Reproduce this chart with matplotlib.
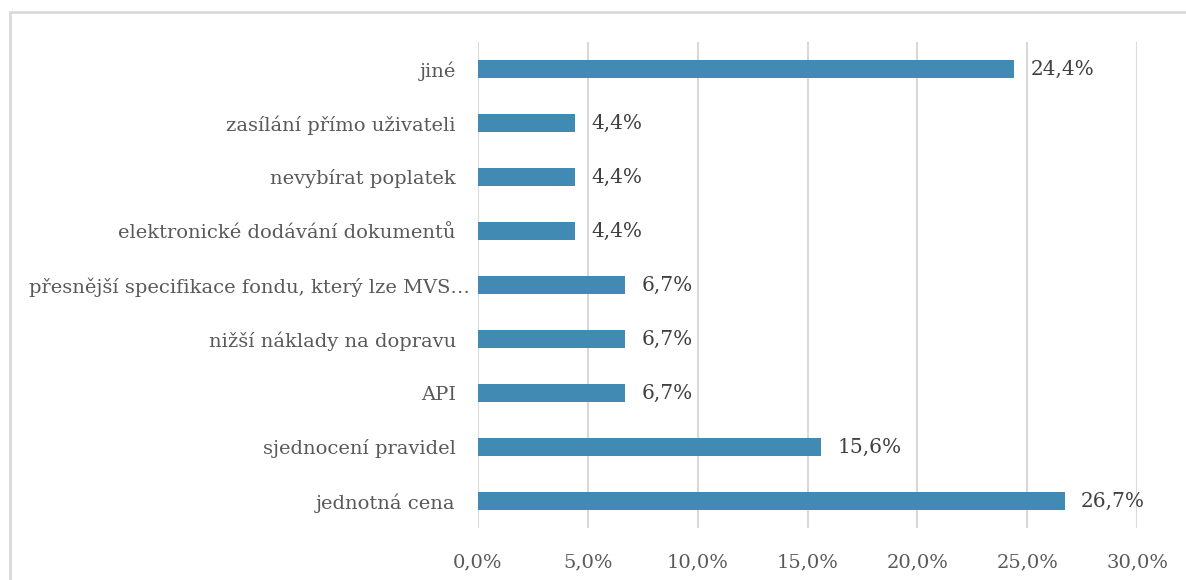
import matplotlib
matplotlib.use('Agg')
import matplotlib.pyplot as plt
import matplotlib.transforms as mtransforms
from matplotlib.patches import Rectangle
from matplotlib.ticker import FuncFormatter

# categories listed bottom to top
categories = [
    'jednotná cena',
    'sjednocení pravidel',
    'API',
    'nižší náklady na dopravu',
    'přesnější specifikace fondu, který lze MVS…',
    'elektronické dodávání dokumentů',
    'nevybírat poplatek',
    'zasílání přímo uživateli',
    'jiné',
]
shares = [26.7, 15.6, 6.7, 6.7, 6.7, 4.4, 4.4, 4.4, 24.4]
x_ticks = [0, 5, 10, 15, 20, 25, 30]

plt.rcParams['font.family'] = ['DejaVu Serif']

fig = plt.figure(figsize=(11.86, 5.8), dpi=100)
ax = fig.add_axes([478 / 1186, 52 / 580, (1137 - 478) / 1186, (528 - 42) / 580])

# outer chart frame (right and bottom edges fall outside the canvas)
fig.patches.append(Rectangle((10 / 1186, -0.1), 1.2, (580 - 12) / 580 + 0.1,
                             transform=fig.transFigure, fill=False,
                             edgecolor='#d9d9d9', linewidth=2))

y = range(len(categories))
ax.barh(y, shares, height=0.35, color='#418ab3', zorder=3)

for yi, v in zip(y, shares):
    ax.text(v + 0.75, yi, f'{v:.1f}%'.replace('.', ','), va='center', ha='left',
            fontsize=14.5, color='#404040')

ax.set_xlim(0, 30)
ax.set_ylim(-0.5, len(categories) - 0.5)
ax.set_xticks(x_ticks)
ax.xaxis.set_major_formatter(FuncFormatter(lambda v, p: f'{v:.1f}%'.replace('.', ',')))
ax.set_yticks(list(y))
ax.set_yticklabels(categories)
ax.tick_params(axis='both', length=0, labelsize=14, labelcolor='#595959')
ax.tick_params(axis='y', pad=16)
ax.tick_params(axis='x', pad=18)
ax.grid(axis='x', color='#d9d9d9', linewidth=1.5, zorder=0)
for s in ax.spines.values():
    s.set_visible(False)

# the truncated long label sits closer to the bars than the others
long_lbl = ax.get_yticklabels()[4]
long_lbl.set_transform(long_lbl.get_transform() +
                       mtransforms.ScaledTranslation(14 / 100, 0, fig.dpi_scale_trans))

fig.savefig('out.png', dpi=100)
